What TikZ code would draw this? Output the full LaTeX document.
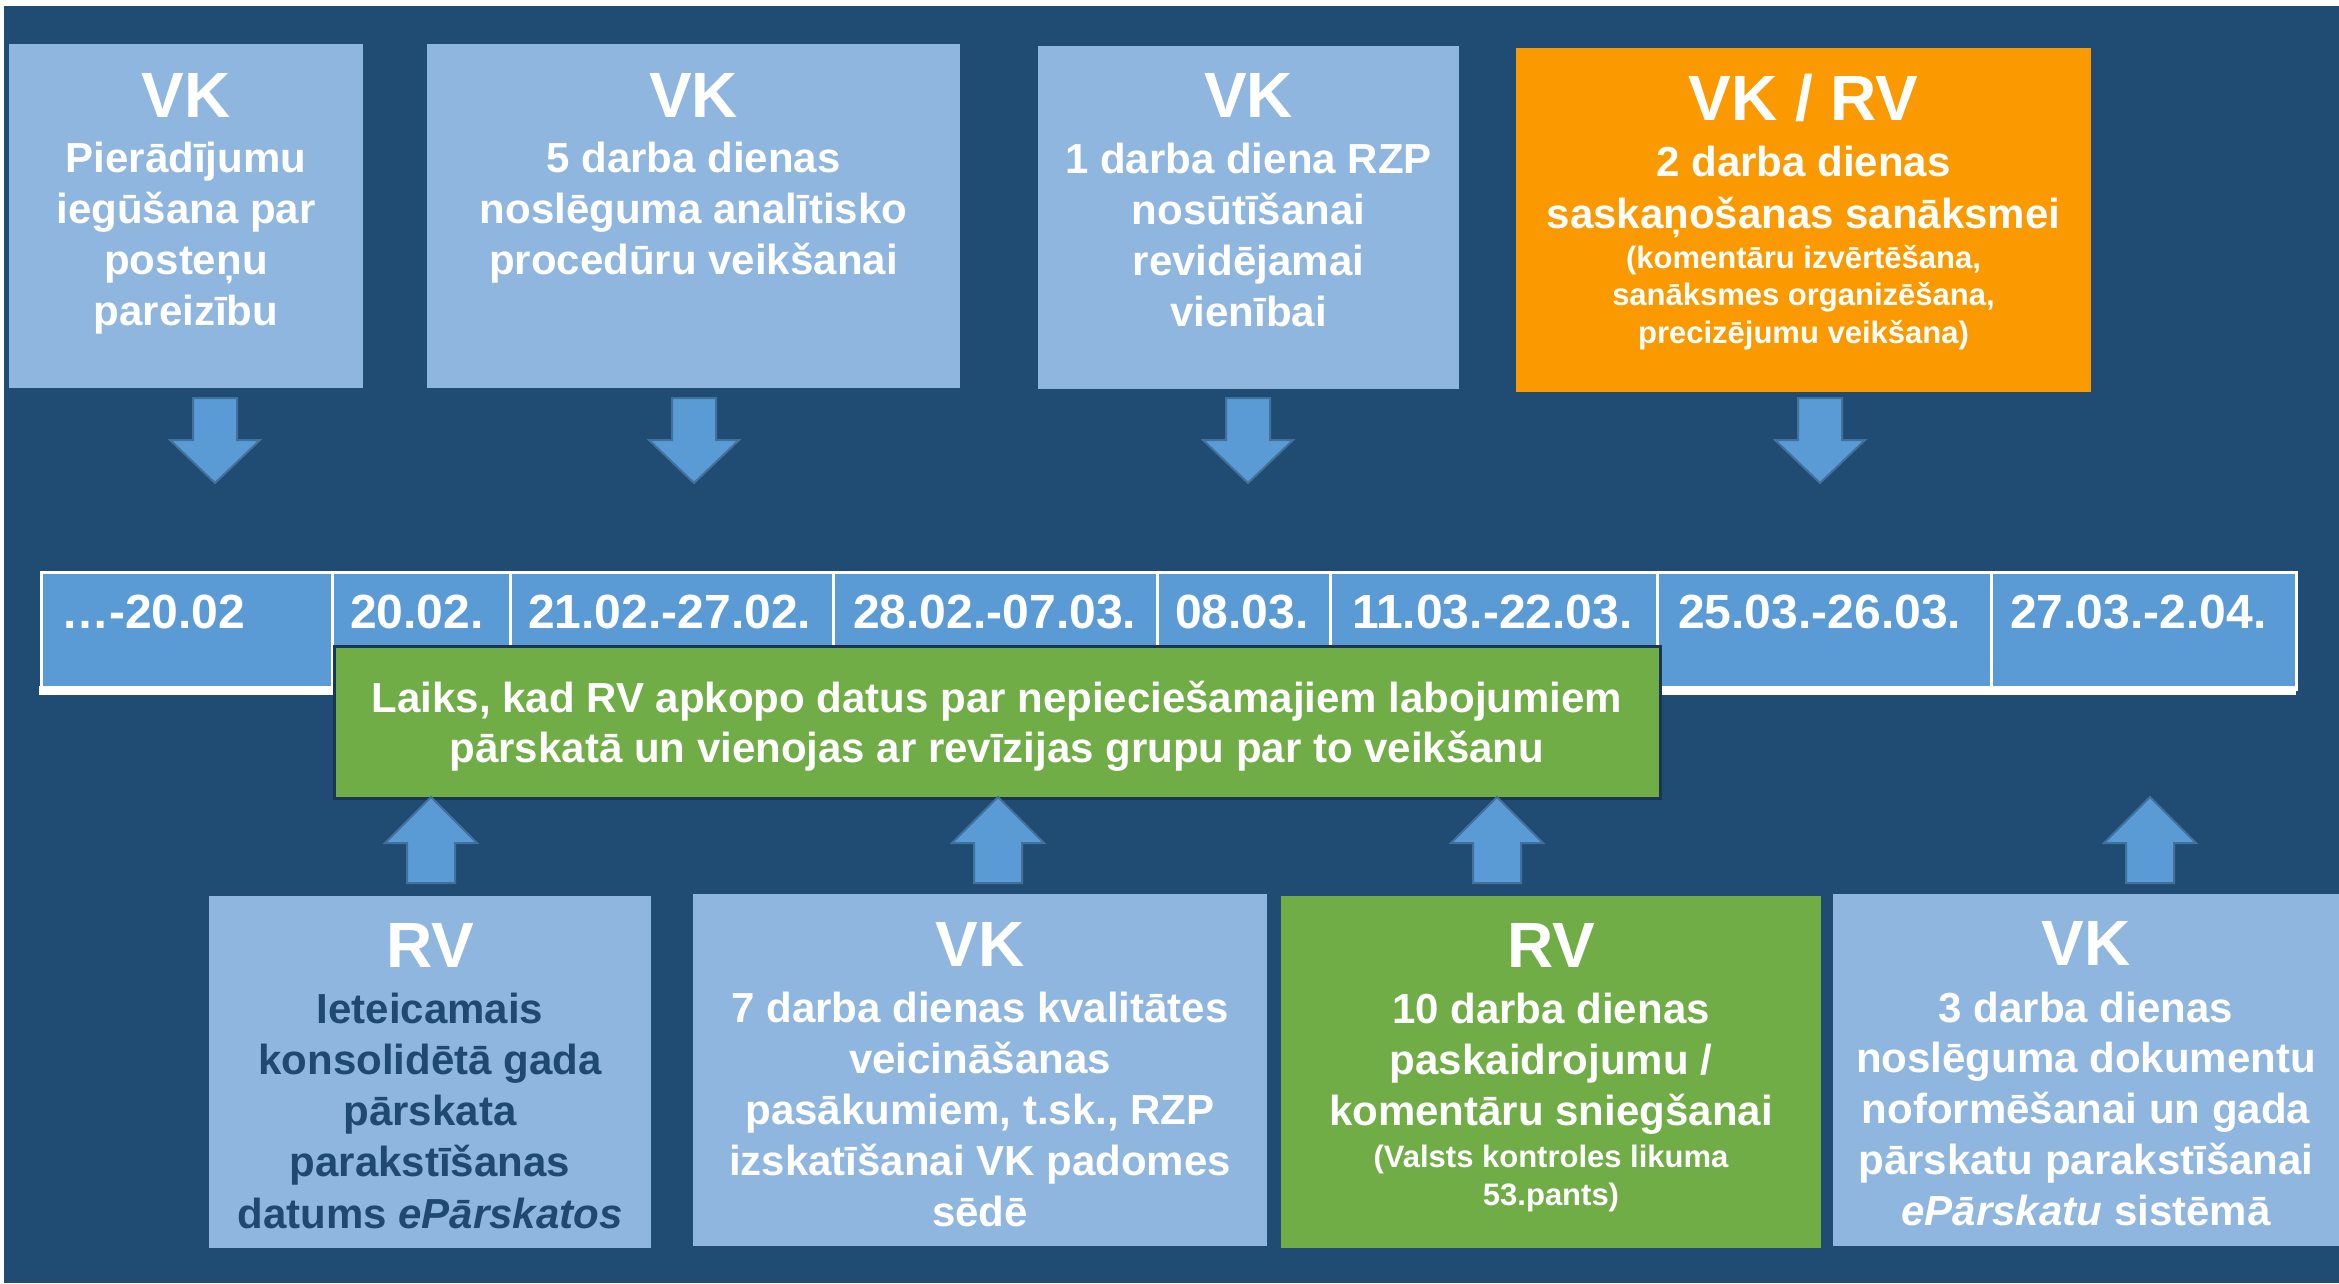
\documentclass[tikz,border=0pt]{standalone}
\usepackage{fontspec}
\setmainfont{Liberation Sans}
\definecolor{bgc}{HTML}{204C74}
\definecolor{lboxc}{HTML}{8EB6DF}
\definecolor{cellb}{HTML}{5B9BD5}
\definecolor{arredge}{HTML}{41719C}
\definecolor{orng}{HTML}{FB9A00}
\definecolor{grn}{HTML}{70AD47}
\definecolor{grnedge}{HTML}{1B3552}
\definecolor{dtext}{HTML}{1F4970}
\newcommand\mylines[4]{\parbox[t]{#1pt}{\centering\fontsize{#2}{#3}\selectfont #4}}
\tikzset{
  boxbase/.style={draw=none, inner sep=0pt, outer sep=0pt, anchor=north west},
  lbox/.style={boxbase, fill=lboxc},
  ttl/.style={anchor=base, inner sep=0pt, text=white, font=\bfseries\fontsize{64}{70}\selectfont},
  bod/.style={anchor=base, inner sep=0pt, text=white, font=\bfseries},
  cell/.style={fill=cellb, draw=white, line width=2.5pt, anchor=north west, inner sep=0pt, minimum height=117pt},
  datetxt/.style={anchor=base west, inner sep=0pt, text=white, font=\bfseries\fontsize{48}{56}\selectfont},
  arr/.style={fill=cellb, draw=arredge, line width=2pt, line join=miter},
  darrow/.pic={\filldraw[arr] (-22,398) -- (22,398) -- (22,440) -- (45,440) -- (0,483) -- (-45,440) -- (-22,440) -- cycle;},
  uarrow/.pic={\filldraw[arr] (-24,883) -- (24,883) -- (24,843) -- (46,843) -- (0,797) -- (-46,843) -- (-24,843) -- cycle;}
}
\begin{document}
\begin{tikzpicture}[x=1pt, y=-1pt]
\useasboundingbox (0,0) rectangle (2339,1283);
\fill[white] (0,0) rectangle (2339,1283);
\fill[bgc] (4,6) rectangle (2339,1283);

% top boxes
\node[lbox, minimum width=354pt, minimum height=344pt] (b1) at (9,44) {};
\node[lbox, minimum width=533pt, minimum height=344pt] (b2) at (427,44) {};
\node[lbox, minimum width=421pt, minimum height=343pt] (b3) at (1038,46) {};
\node[boxbase, fill=orng, minimum width=575pt, minimum height=344pt] (b4) at (1516,48) {};

\node[ttl] (b1t) at (186,117) {VK};
\node[bod] (b1x) at (186,172) {\mylines{340}{42}{51.3}{Pierādījumu\\iegūšana par\\posteņu\\pareizību}};
\node[ttl] (b2t) at (693.5,117) {VK};
\node[bod] (b2x) at (693.5,172) {\mylines{520}{42}{51.3}{5 darba dienas\\noslēguma analītisko\\procedūru veikšanai}};
\node[ttl] (b3t) at (1248.5,117) {VK};
\node[bod] (b3x) at (1248.5,173) {\mylines{410}{42}{51.3}{1 darba diena RZP\\nosūtīšanai\\revidējamai\\vienībai}};
\node[ttl] (b4t) at (1803.5,120) {VK / RV};
\node[bod] (b4x) at (1803.5,176) {\mylines{560}{42}{52}{2 darba dienas\\saskaņošanas sanāksmei}};
\node[bod] (b4s) at (1803.5,268) {\mylines{560}{31}{37.5}{(komentāru izvērtēšana,\\sanāksmes organizēšana,\\precizējumu veikšana)}};

% down arrows
\pic at (215,0) {darrow};
\pic at (694,0) {darrow};
\pic at (1248,0) {darrow};
\pic at (1820,0) {darrow};

% table
\node[cell, minimum width=291pt] (c1) at (40,571) {};
\node[cell, minimum width=178pt] (c2) at (331,571) {};
\node[cell, minimum width=323pt] (c3) at (509,571) {};
\node[cell, minimum width=324pt] (c4) at (832,571) {};
\node[cell, minimum width=173pt] (c5) at (1156,571) {};
\node[cell, minimum width=327pt] (c6) at (1329,571) {};
\node[cell, minimum width=334pt] (c7) at (1656,571) {};
\node[cell, minimum width=305pt] (c8) at (1990,571) {};
\fill[white] (38.75,686) rectangle (2296.25,695);

\node[datetxt] (d1) at (61,628) {…-20.02};
\node[datetxt] (d2) at (350,628) {20.02.};
\node[datetxt] (d3) at (528,628) {21.02.-27.02.};
\node[datetxt] (d4) at (853,628) {28.02.-07.03.};
\node[datetxt] (d5) at (1175,628) {08.03.};
\node[datetxt] (d6) at (1352,628) {11.03.-22.03.};
\node[datetxt] (d7) at (1678,628) {25.03.-26.03.};
\node[datetxt] (d8) at (2010,628) {27.03.-2.04.};

% green box
\node[boxbase, fill=grn, draw=grnedge, line width=3pt, minimum width=1326pt, minimum height=152pt] (g) at (334,646) {};
\node[bod] (gx) at (997,712) {\mylines{1310}{42}{50}{Laiks, kad RV apkopo datus par nepieciešamajiem labojumiem\\pārskatā un vienojas ar revīzijas grupu par to veikšanu}};

% up arrows
\pic at (431,0) {uarrow};
\pic at (998,0) {uarrow};
\pic at (1497,0) {uarrow};
\pic at (2150,0) {uarrow};

% bottom boxes
\node[lbox, minimum width=442pt, minimum height=352pt] (B1) at (209,896) {};
\node[lbox, minimum width=574pt, minimum height=352pt] (B2) at (693,894) {};
\node[boxbase, fill=grn, minimum width=540pt, minimum height=352pt] (B3) at (1281,896) {};
\node[lbox, minimum width=506pt, minimum height=352pt] (B4) at (1833,894) {};

\node[ttl] (B1t) at (430,967) {RV};
\node[bod, text=dtext] (B1x) at (430,1023) {\mylines{440}{42}{51.3}{Ieteicamais\\konsolidētā gada\\pārskata\\parakstīšanas\\datums \textit{ePārskatos}}};
\node[ttl] (B2t) at (980,966) {VK};
\node[bod] (B2x) at (980,1022) {\mylines{570}{42}{51}{7 darba dienas kvalitātes\\veicināšanas\\pasākumiem, t.sk., RZP\\izskatīšanai VK padomes\\sēdē}};
\node[ttl] (B3t) at (1551,967) {RV};
\node[bod] (B3x) at (1551,1023) {\mylines{530}{42}{51.3}{10 darba dienas\\paskaidrojumu /\\komentāru sniegšanai}};
\node[bod] (B3s) at (1551,1167) {\mylines{530}{31}{38}{(Valsts kontroles likuma\\53.pants)}};
\node[ttl] (B4t) at (2086,965) {VK};
\node[bod] (B4x) at (2086,1022) {\mylines{500}{42}{50.8}{3 darba dienas\\noslēguma dokumentu\\noformēšanai un gada\\pārskatu parakstīšanai\\\textit{ePārskatu} sistēmā}};
\end{tikzpicture}
\end{document}
